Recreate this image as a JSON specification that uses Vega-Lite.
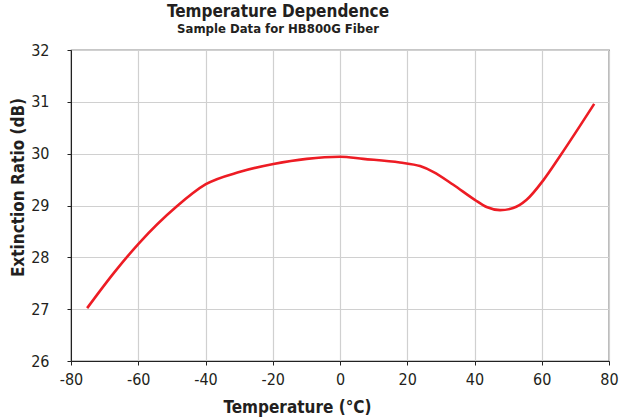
{
  "$schema": "https://vega.github.io/schema/vega-lite/v6.json",
  "width": 538,
  "height": 311,
  "autosize": {"type": "none"},
  "padding": {"left": 71, "top": 50, "right": 12, "bottom": 57},
  "background": "white",
  "config": {
    "font": "DejaVu Sans Condensed, Roboto",
    "view": {"stroke": "#222", "strokeWidth": 1.2}
  },
  "title": {
    "text": "Temperature Dependence",
    "subtitle": "Sample Data for HB800G Fiber",
    "anchor": "middle",
    "dx": -62,
    "offset": 5,
    "font": "DejaVu Sans Condensed, Roboto",
    "fontSize": 17,
    "fontWeight": "bold",
    "color": "#231f20",
    "subtitleFont": "DejaVu Sans Condensed, Roboto",
    "subtitleFontSize": 13,
    "subtitleFontWeight": "bold",
    "subtitleColor": "#231f20",
    "subtitlePadding": 2
  },
  "data": {
    "values": [
      {"temp": -75.2, "er": 27.02},
      {"temp": -67, "er": 27.72},
      {"temp": -59.8, "er": 28.27},
      {"temp": -48.6, "er": 28.98},
      {"temp": -39.9, "er": 29.41},
      {"temp": -29.7, "er": 29.65},
      {"temp": -19.8, "er": 29.80},
      {"temp": -9.9, "er": 29.90},
      {"temp": 0, "er": 29.94},
      {"temp": 6.9, "er": 29.90},
      {"temp": 17.8, "er": 29.83},
      {"temp": 23.8, "er": 29.76},
      {"temp": 27.7, "er": 29.65},
      {"temp": 33.7, "er": 29.40},
      {"temp": 40.1, "er": 29.11},
      {"temp": 43.6, "er": 28.97},
      {"temp": 47.6, "er": 28.91},
      {"temp": 51.5, "er": 28.95},
      {"temp": 55.5, "er": 29.11},
      {"temp": 60.5, "er": 29.49},
      {"temp": 65.4, "er": 29.95},
      {"temp": 75.6, "er": 30.96}
    ]
  },
  "mark": {"type": "line", "color": "#ed1c24", "strokeWidth": 2.6, "interpolate": "monotone"},
  "encoding": {
    "x": {
      "field": "temp",
      "type": "quantitative",
      "scale": {"domain": [-80, 80], "nice": false, "zero": false},
      "axis": {
        "title": "Temperature (°C)",
        "values": [-80, -60, -40, -20, 0, 20, 40, 60, 80],
        "labelExpr": "datum.value < 0 ? '-' + abs(datum.value) : '' + datum.value",
        "domainColor": "#222",
        "tickColor": "#222",
        "tickSize": 4,
        "labelPadding": 6,
        "labelFontSize": 16,
        "labelColor": "#231f20",
        "labelFlush": false,
        "gridColor": "#d0d0d0",
        "gridWidth": 1.2,
        "titleFontSize": 17,
        "titleFontWeight": "bold",
        "titleColor": "#231f20",
        "titleX": 226,
        "titleY": 51,
        "titleBaseline": "alphabetic",
        "titleAnchor": null
      }
    },
    "y": {
      "field": "er",
      "type": "quantitative",
      "scale": {"domain": [26, 32], "nice": false, "zero": false},
      "axis": {
        "title": "Extinction Ratio (dB)",
        "values": [26, 27, 28, 29, 30, 31, 32],
        "domainColor": "#222",
        "tickColor": "#222",
        "tickSize": 4,
        "labelPadding": 18,
        "labelFontSize": 16,
        "labelColor": "#231f20",
        "labelFlush": false,
        "gridColor": "#d0d0d0",
        "gridWidth": 1.2,
        "titleFontSize": 17,
        "titleFontWeight": "bold",
        "titleColor": "#231f20",
        "titleX": -53,
        "titleY": 137,
        "titleAngle": -90,
        "titleBaseline": "middle"
      }
    }
  }
}
